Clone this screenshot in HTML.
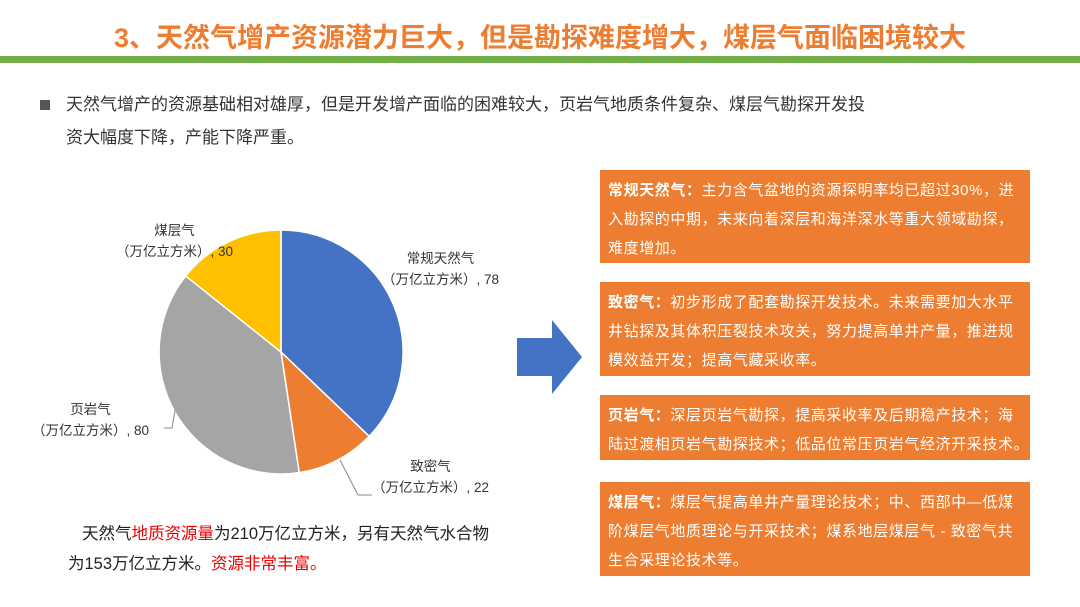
<!DOCTYPE html>
<html><head><meta charset="utf-8"><style>
body{margin:0;width:1080px;height:607px;background:#fff;overflow:hidden;position:relative;font-family:"Liberation Sans","Noto Sans CJK SC",sans-serif}
.t{position:absolute;left:0;width:1080px;top:16px;text-align:center;color:#ed7d31;font-size:27px;font-weight:bold}
.g{position:absolute;left:0;top:56px;width:1080px;height:7px;background:#70ad47}
.p{position:absolute;left:40px;top:88px;font-size:17px;color:#333;line-height:33px}
.b{position:absolute;left:600px;width:430px;background:#ed7d31;color:#fff;font-size:15px;letter-spacing:0.6px;line-height:29px;padding:6px 0 0 8px;box-sizing:border-box;white-space:nowrap;overflow:hidden}
.lb{position:absolute;font-size:13.5px;color:#333;line-height:21px;text-align:center}
.n{position:absolute;left:68px;top:519px;font-size:16.5px;color:#222;line-height:30px;text-indent:14px}
.r{color:#e00}
</style></head><body>
<div class="t">3、天然气增产资源潜力巨大，但是勘探难度增大，煤层气面临困境较大</div>
<div class="g"></div>
<div class="p"><span style="display:inline-block;width:10px;height:10px;background:#555;margin-right:16px"></span>天然气增产的资源基础相对雄厚，但是开发增产面临的困难较大，页岩气地质条件复杂、煤层气勘探开发投<br><span style="margin-left:26px">资大幅度下降，产能下降严重。</span></div>
<svg width="1080" height="607" style="position:absolute;left:0;top:0">
<path d="M281,352 L281,230 A122,122 0 0 1 369.2,436.3 Z" fill="#4472c4" stroke="#fff" stroke-width="1.5"/>
<path d="M281,352 L369.2,436.3 A122,122 0 0 1 299.2,472.6 Z" fill="#ed7d31" stroke="#fff" stroke-width="1.5"/>
<path d="M281,352 L299.2,472.6 A122,122 0 0 1 185.7,275.9 Z" fill="#a5a5a5" stroke="#fff" stroke-width="1.5"/>
<path d="M281,352 L185.7,275.9 A122,122 0 0 1 281,230 Z" fill="#ffc000" stroke="#fff" stroke-width="1.5"/>
<polyline points="340,460 358,495 372,495" fill="none" stroke="#888"/>
<polyline points="164,428 172,428 175,410" fill="none" stroke="#888"/>
<polygon points="517,338 552,338 552,320 582,357 552,394 552,376 517,376" fill="#4472c4"/>
</svg>
<div class="lb" style="left:116px;top:220px">煤层气<br>（万亿立方米）, 30</div>
<div class="lb" style="left:382px;top:248px">常规天然气<br>（万亿立方米）, 78</div>
<div class="lb" style="left:32px;top:399px">页岩气<br>（万亿立方米）, 80</div>
<div class="lb" style="left:372px;top:456px">致密气<br>（万亿立方米）, 22</div>
<div class="n">天然气<span class="r">地质资源量</span>为210万亿立方米，另有天然气水合物<br><span>为153万亿立方米。<span class="r">资源非常丰富。</span></span></div>
<div class="b" style="top:170px;height:93px"><b>常规天然气：</b>主力含气盆地的资源探明率均已超过30%，进<br>入勘探的中期，未来向着深层和海洋深水等重大领域勘探，<br>难度增加。</div>
<div class="b" style="top:282px;height:94px"><b>致密气：</b>初步形成了配套勘探开发技术。未来需要加大水平<br>井钻探及其体积压裂技术攻关，努力提高单井产量，推进规<br>模效益开发；提高气藏采收率。</div>
<div class="b" style="top:395px;height:65px"><b>页岩气：</b>深层页岩气勘探，提高采收率及后期稳产技术；海<br>陆过渡相页岩气勘探技术；低品位常压页岩气经济开采技术。</div>
<div class="b" style="top:482px;height:94px"><b>煤层气：</b>煤层气提高单井产量理论技术；中、西部中—低煤<br>阶煤层气地质理论与开采技术；煤系地层煤层气 - 致密气共<br>生合采理论技术等。</div>
</body></html>
